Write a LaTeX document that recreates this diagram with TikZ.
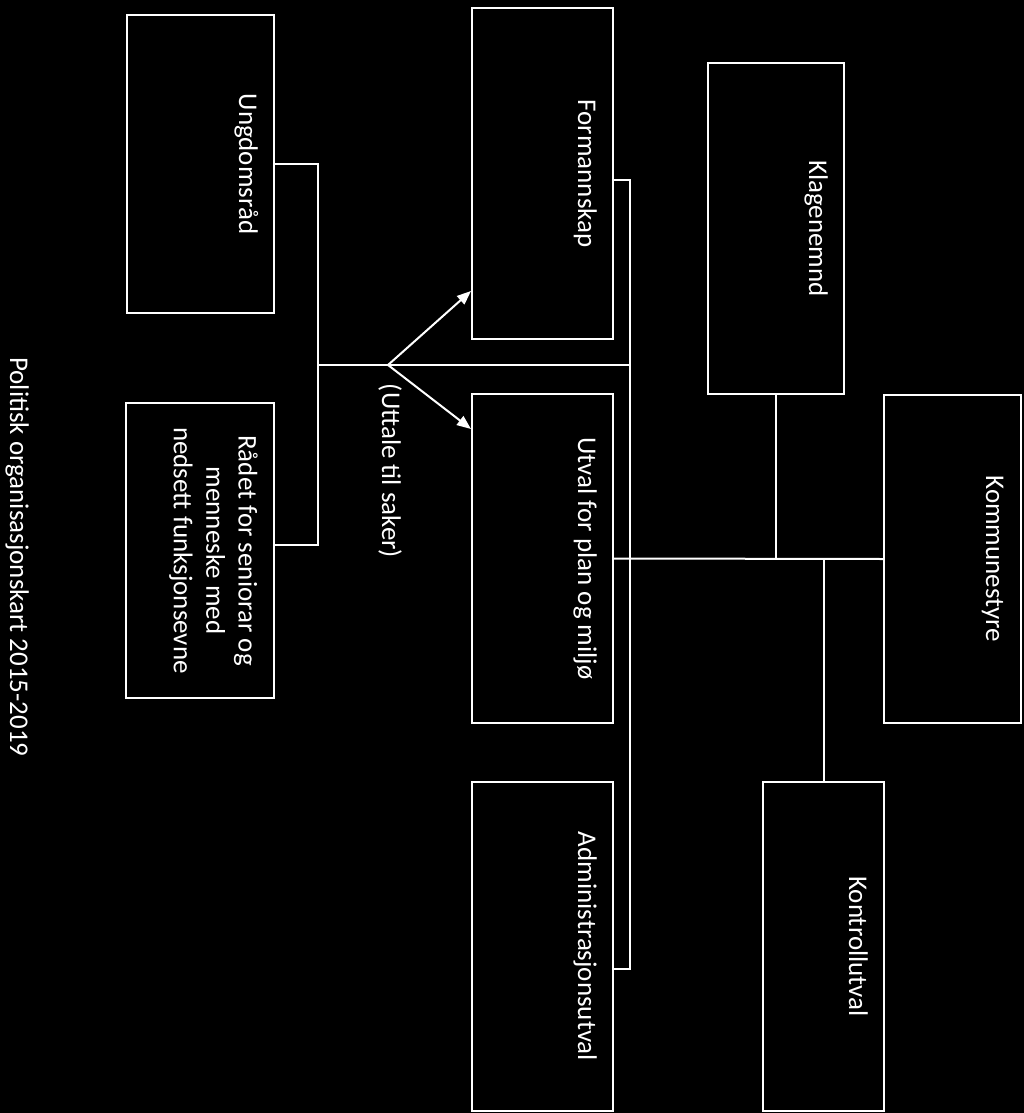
\documentclass[tikz,border=0pt]{standalone}
\usepackage{fontspec}
\setmainfont{Carlito}
\usetikzlibrary{arrows.meta}

\begin{document}
\begin{tikzpicture}[
    x=1pt, y=-1pt,
    box/.style={rectangle, draw=white, line width=2pt, fill=black, inner sep=0pt, anchor=north west},
    lbl/.style={text=white, rotate=-90, anchor=base, inner sep=0pt, font=\fontsize{27}{32.4}\selectfont},
    link/.style={draw=white, line width=2pt},
    >=Triangle
]

% --- Background ---
\fill[black] (0,0) rectangle (1024,1113);
\useasboundingbox (0,0) rectangle (1024,1113);

% --- Councils (left column) ---
\node[box, minimum width=147pt, minimum height=298pt] (ungdom) at (126,14) {};
\node[box, minimum width=148pt, minimum height=295pt] (raad) at (125,402) {};

% --- Committees (middle column) ---
\node[box, minimum width=141pt, minimum height=331pt] (formann) at (471,7) {};
\node[box, minimum width=141pt, minimum height=329pt] (utval) at (471,393) {};
\node[box, minimum width=141pt, minimum height=329pt] (admin) at (471,781) {};

% --- Right side ---
\node[box, minimum width=136pt, minimum height=331pt] (klage) at (707,62) {};
\node[box, minimum width=137pt, minimum height=328pt] (kommune) at (883,394) {};
\node[box, minimum width=121pt, minimum height=329pt] (kontroll) at (762,781) {};

% --- Labels ---
\node[lbl] (title) at (10,557) {Politisk organisasjonskart 2015-2019};
\node[lbl] at ([xshift=-36pt]ungdom.east) {Ungdomsråd};
\node[lbl, align=center, anchor=north] at ([xshift=-17pt]raad.east) {Rådet for seniorar og\\menneske med\\nedsett funksjonsevne};
\node[lbl] at ([xshift=-36pt]formann.east) {Formannskap};
\node[lbl] at ([xshift=-36pt]utval.east) {Utval for plan og miljø};
\node[lbl] at ([xshift=-36pt]admin.east) {Administrasjonsutval};
\node[lbl] at ([xshift=-36pt]klage.east) {Klagenemnd};
\node[lbl] at ([xshift=-36pt]kommune.east) {Kommunestyre};
\node[lbl] at ([xshift=-36pt]kontroll.east) {Kontrollutval};
\node[lbl] (uttale) at (382,471) {(Uttale til saker)};

% --- Helper points ---
\coordinate (join) at (318,365);
\coordinate (rail) at (630,365);
\coordinate (split) at (388,365);

% --- Councils to committees ---
\draw[link] (ungdom.east) -| (join) |- ([yshift=6pt]raad.east);
\draw[link] (join) -- (rail);
\draw[link, -{Triangle[length=14pt, width=11pt]}] (split) -- ([yshift=49pt]formann.south west);
\draw[link, -{Triangle[length=14pt, width=11pt]}] (split) -- ([yshift=-36pt]utval.north west);

% --- Committee rail ---
\draw[link] ([yshift=-6pt]formann.east) -- ([yshift=-6pt]formann.east -| rail)
    -- ([yshift=-22pt]admin.east -| rail) -- ([yshift=-22pt]admin.east);

% --- Kommunestyre bus ---
\draw[link] (utval.east) -- (kommune.west);
\draw[link] (klage.south) -- (klage.south |- kommune.west);
\draw[link] (kontroll.north) -- (kontroll.north |- kommune.west);

\end{tikzpicture}
\end{document}
